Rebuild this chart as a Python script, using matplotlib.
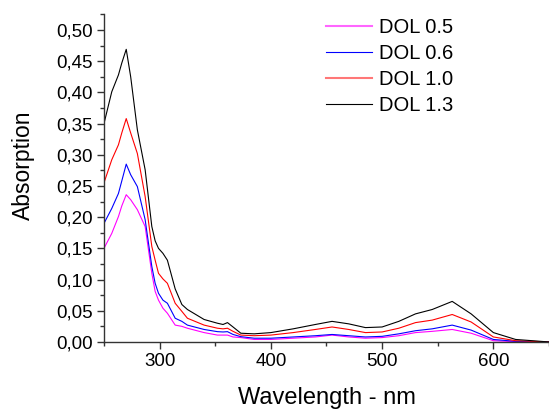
import matplotlib
matplotlib.use("Agg")
import matplotlib.pyplot as plt
from matplotlib.lines import Line2D
from matplotlib.ticker import MultipleLocator, FuncFormatter

plt.rcParams["font.family"] = ["Liberation Sans", "DejaVu Sans"]

# ---- data ---------------------------------------------------------------
wavelength = [250, 257, 263, 266, 270, 274, 280, 287, 293, 296, 299, 303, 307,
              314, 320, 325, 340, 352, 357, 361, 366, 373, 385, 400, 420, 440,
              455, 470, 485, 500, 515, 530, 545, 563, 580, 600, 620, 650]
dol_05 = [.150, .174, .201, .218, .236, .228, .212, .185, .110, .081, .067, .054,
          .046, .027, .025, .022, .015, .011, .011, .011, .008, .007, .004, .004,
          .006, .008, .011, .008, .006, .007, .010, .015, .017, .020, .014, .002,
          .0005, 0.0]
dol_06 = [.190, .214, .238, .258, .285, .268, .249, .196, .121, .094, .078, .067,
          .062, .038, .033, .027, .020, .0165, .016, .0165, .012, .0085, .006,
          .006, .008, .010, .012, .010, .008, .009, .013, .018, .021, .027, .019,
          .004, .001, 0.0]
dol_10 = [.255, .292, .316, .335, .358, .335, .302, .233, .153, .131, .110, .101,
          .094, .062, .049, .038, .027, .022, .021, .022, .017, .011, .010, .011,
          .015, .020, .024, .020, .015, .016, .022, .031, .035, .044, .032, .008,
          .002, 0.0]
dol_13 = [.350, .401, .428, .447, .469, .425, .340, .276, .185, .162, .150, .142,
          .131, .085, .060, .052, .036, .030, .028, .031, .024, .014, .013, .015,
          .021, .028, .033, .029, .023, .024, .033, .045, .052, .065, .045, .015,
          .004, 0.0]
labels = ["DOL 0.5", "DOL 0.6", "DOL 1.0", "DOL 1.3"]

fig = plt.figure(figsize=(5.49, 4.11), dpi=100)
ax = fig.add_axes([0.1894, 0.168, 0.8106, 0.797])

ax.plot(wavelength, dol_05, color="#ff00ff", lw=0.8)
ax.plot(wavelength, dol_06, color="#0000ff", lw=0.8)
ax.plot(wavelength, dol_10, color="#ff0000", lw=0.8)
ax.plot(wavelength, dol_13, color="black", lw=0.8)

ax.set_xlim(250, 650)
ax.set_ylim(0, 0.525)
ax.xaxis.set_major_locator(MultipleLocator(100))
ax.xaxis.set_minor_locator(MultipleLocator(50))
ax.yaxis.set_major_locator(MultipleLocator(0.05))
ax.yaxis.set_minor_locator(MultipleLocator(0.025))
ax.yaxis.set_major_formatter(FuncFormatter(lambda v, p: f"{v:.2f}".replace(".", ",")))

for s in ("top", "right"):
    ax.spines[s].set_visible(False)
for s in ("left", "bottom"):
    ax.spines[s].set_color("#333333")
    ax.spines[s].set_linewidth(1.0)
ax.tick_params(which="major", direction="out", length=5, width=1, labelsize=13.5,
               color="#333333", pad=3)
ax.tick_params(which="minor", direction="out", length=3, width=1, color="#333333")

ax.set_xlabel("Wavelength - nm", fontsize=17, labelpad=12)
ax.set_ylabel("Absorption", fontsize=16.5, labelpad=15, y=0.54)

handles = [Line2D([], [], color="#ff66ff", lw=1.5),
           Line2D([], [], color="#0000ff", lw=0.8),
           Line2D([], [], color="#ff7777", lw=1.5),
           Line2D([], [], color="black", lw=0.8)]
ax.legend(handles, labels, loc="upper left", bbox_to_anchor=(0.50, 0.99), frameon=False,
          fontsize=14.5, handlelength=2.24, labelspacing=0.36, handletextpad=0.35,
          borderpad=0, borderaxespad=0)

fig.savefig("out.png", dpi=100)
